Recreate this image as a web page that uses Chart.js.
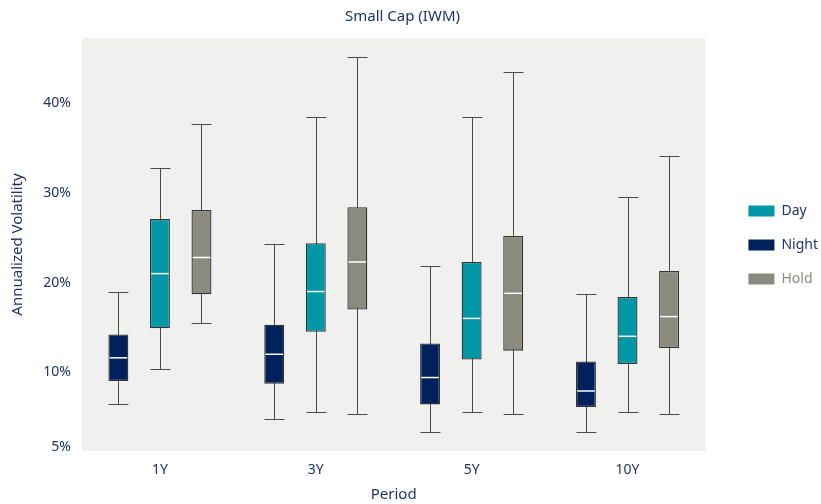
<!DOCTYPE html>
<html>
<head>
<meta charset="utf-8">
<script src="https://cdn.jsdelivr.net/npm/chart.js@4"></script>
<style>
  html, body { margin: 0; padding: 0; background: #fff; }
  #wrap { width: 821px; height: 504px; }
</style>
</head>
<body>
<div id="wrap"><canvas id="boxChart" width="821" height="504"></canvas></div>
<script>
// Categories and series
const categories = ['1Y', '3Y', '5Y', '10Y'];
const seriesNames = ['Night', 'Day', 'Hold'];
const legendOrder = ['Day', 'Night', 'Hold'];

// Box statistics per series (annualized volatility, %)
const nightMin    = [6.5, 4.8, 3.3, 3.3];
const nightQ1     = [9.0, 8.7, 6.4, 6.1];
const nightMedian = [11.6, 12.0, 9.4, 7.9];
const nightQ3     = [14.2, 15.3, 13.2, 11.2];
const nightMax    = [18.9, 24.3, 21.9, 18.7];

const dayMin    = [10.4, 5.5, 5.5, 5.5];
const dayQ1     = [14.9, 14.5, 11.4, 10.9];
const dayMedian = [21.0, 19.0, 16.0, 14.0];
const dayQ3     = [27.1, 24.4, 22.3, 18.4];
const dayMax    = [32.8, 38.5, 38.5, 29.6];

const holdMin    = [15.5, 5.3, 5.3, 5.3];
const holdQ1     = [18.7, 17.0, 12.4, 12.7];
const holdMedian = [22.8, 22.3, 18.8, 16.2];
const holdQ3     = [28.1, 28.4, 25.2, 21.3];
const holdMax    = [37.7, 45.2, 43.5, 34.1];

// Y axis ticks as they sit on the original axis
const tickValues = [1.6, 10, 20, 30, 40];
const tickLabels = ['5%', '10%', '20%', '30%', '40%'];

const COLORS = {
    night: '#00215B',
    day: '#0097A7',
    hold: '#8A8A7F',
    text: '#1E3366',
    holdText: '#8C8C86',
    border: '#333333',
    whisker: '#4A4A4A',
    plotBg: '#F0F0EE'
};

const stats = {
    Night: { min: nightMin, med: nightMedian, max: nightMax },
    Day:   { min: dayMin,   med: dayMedian,   max: dayMax },
    Hold:  { min: holdMin,  med: holdMedian,  max: holdMax }
};

function boxes(q1, q3) {
    return q1.map((v, i) => [v, q3[i]]);
}

const FONT = 'Noto Sans';

// Grey plotting area
const plotBackground = {
    id: 'plotBackground',
    beforeDraw(chart) {
        const { ctx, chartArea: a } = chart;
        ctx.save();
        ctx.fillStyle = COLORS.plotBg;
        ctx.fillRect(a.left, a.top, a.right - a.left, a.bottom - a.top);
        ctx.restore();
    }
};

// Whiskers behind the boxes, medians on top
const boxPlot = {
    id: 'boxPlot',
    beforeDatasetsDraw(chart) {
        const { ctx } = chart;
        const y = chart.scales.y;
        ctx.save();
        ctx.strokeStyle = COLORS.whisker;
        ctx.lineWidth = 1;
        chart.data.datasets.forEach((ds, di) => {
            const s = stats[ds.label];
            chart.getDatasetMeta(di).data.forEach((bar, i) => {
                const x = Math.round(bar.x) + 0.5;
                const half = bar.width / 2;
                const yMin = Math.round(y.getPixelForValue(s.min[i])) + 0.5;
                const yMax = Math.round(y.getPixelForValue(s.max[i])) + 0.5;
                ctx.beginPath();
                ctx.moveTo(x, yMin);
                ctx.lineTo(x, yMax);
                ctx.moveTo(x - half, yMin);
                ctx.lineTo(x + half, yMin);
                ctx.moveTo(x - half, yMax);
                ctx.lineTo(x + half, yMax);
                ctx.stroke();
            });
        });
        ctx.restore();
    },
    afterDatasetsDraw(chart) {
        const { ctx } = chart;
        const y = chart.scales.y;
        ctx.save();
        ctx.strokeStyle = '#FFFFFF';
        ctx.lineWidth = 1.5;
        chart.data.datasets.forEach((ds, di) => {
            const s = stats[ds.label];
            chart.getDatasetMeta(di).data.forEach((bar, i) => {
                const half = bar.width / 2 - 1.2;
                const yMed = y.getPixelForValue(s.med[i]);
                ctx.beginPath();
                ctx.moveTo(bar.x - half, yMed);
                ctx.lineTo(bar.x + half, yMed);
                ctx.stroke();
            });
        });
        ctx.restore();
    }
};

// Leave a gap between plot area and legend
const legendGap = {
    id: 'legendGap',
    afterLayout(chart) {
        const lg = chart.legend;
        lg.left += 23;
        lg.right += 23;
        lg.top -= 7;
        lg.bottom -= 7;
    }
};

function createChart() {
    const ctx = document.getElementById('boxChart');

    new Chart(ctx, {
        type: 'bar',
        data: {
            labels: categories,
            datasets: [
                { label: 'Night', data: boxes(nightQ1, nightQ3), backgroundColor: COLORS.night },
                { label: 'Day',   data: boxes(dayQ1, dayQ3),     backgroundColor: COLORS.day },
                { label: 'Hold',  data: boxes(holdQ1, holdQ3),   backgroundColor: COLORS.hold }
            ].map(ds => Object.assign(ds, {
                borderColor: COLORS.border,
                borderWidth: 1.3,
                borderSkipped: false,
                categoryPercentage: 0.8,
                barPercentage: 0.48
            }))
        },
        options: {
            responsive: false,
            animation: false,
            layout: { padding: { left: 0, right: 16, top: 0, bottom: 0 } },
            plugins: {
                title: {
                    display: true,
                    text: 'Small Cap (IWM)',
                    color: COLORS.text,
                    font: { family: FONT, size: 15, weight: 'normal' },
                    padding: { top: 8, bottom: 12 }
                },
                legend: {
                    position: 'right',
                    align: 'center',
                    labels: {
                        boxWidth: 26,
                        boxHeight: 11,
                        padding: 20,
                        font: { family: FONT, size: 14 },
                        sort: (a, b) => legendOrder.indexOf(a.text) - legendOrder.indexOf(b.text),
                        generateLabels(chart) {
                            return chart.data.datasets.map((ds, i) => ({
                                text: ds.label,
                                fillStyle: ds.backgroundColor,
                                strokeStyle: ds.backgroundColor,
                                lineWidth: 0,
                                fontColor: ds.label === 'Hold' ? COLORS.holdText : COLORS.text,
                                hidden: false,
                                datasetIndex: i
                            }));
                        }
                    }
                },
                tooltip: { enabled: false }
            },
            scales: {
                x: {
                    grid: { display: false },
                    border: { display: false },
                    ticks: {
                        color: COLORS.text,
                        font: { family: FONT, size: 14 },
                        padding: 3
                    },
                    title: {
                        display: true,
                        text: 'Period',
                        color: COLORS.text,
                        font: { family: FONT, size: 15 },
                        padding: { top: 0, bottom: 0 }
                    },
                    afterFit(scale) { scale.height = 53; }
                },
                y: {
                    min: 1.2,
                    max: 47.3,
                    grid: { display: false },
                    border: { display: false },
                    afterBuildTicks(scale) {
                        scale.ticks = tickValues.map(v => ({ value: v }));
                    },
                    ticks: {
                        color: COLORS.text,
                        font: { family: FONT, size: 14 },
                        padding: 3,
                        callback: (value) => tickLabels[tickValues.indexOf(value)]
                    },
                    title: {
                        display: true,
                        text: 'Annualized Volatility',
                        color: COLORS.text,
                        font: { family: FONT, size: 15 },
                        padding: { top: 9, bottom: 0 }
                    },
                    afterFit(scale) { scale.width = 82; }
                }
            }
        },
        plugins: [plotBackground, boxPlot, legendGap]
    });
}

document.addEventListener('DOMContentLoaded', createChart);
</script>
</body>
</html>
